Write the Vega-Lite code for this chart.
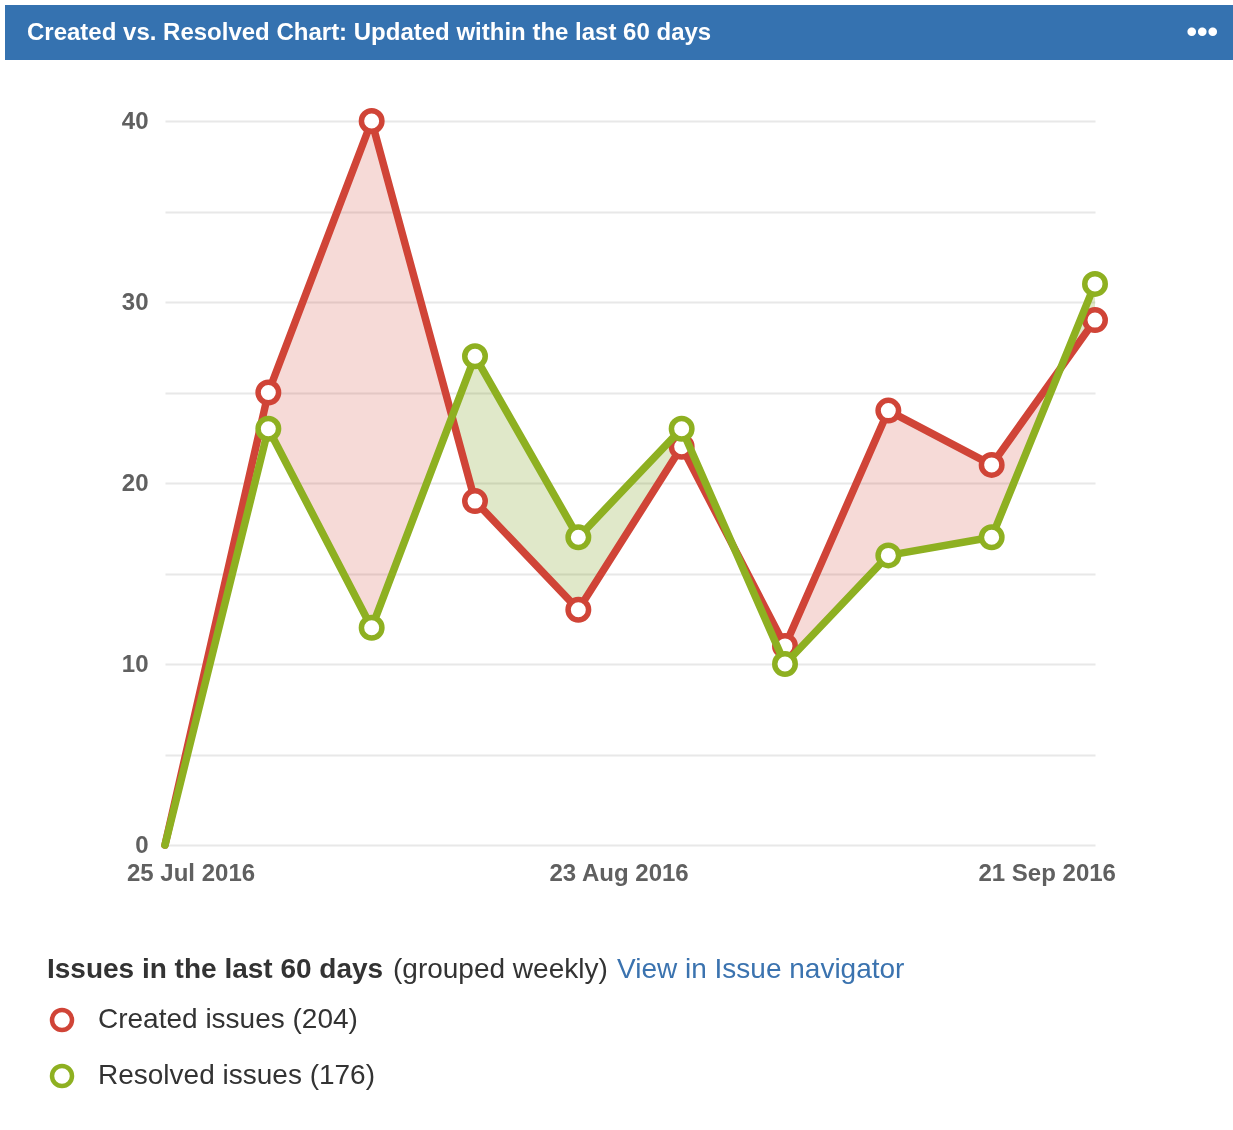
{
  "$schema": "https://vega.github.io/schema/vega-lite/v6.json",
  "background": "white",
  "padding": {"left": 5, "top": 5, "right": 0, "bottom": 0},
  "config": {
    "font": "Liberation Sans",
    "view": {"stroke": null}
  },
  "spacing": 39,
  "vconcat": [
    {
      "spacing": 0,
      "hconcat": [
        {
          "width": 1150,
          "height": 55,
          "view": {"fill": "#3572b0", "stroke": null},
          "title": {
            "text": "Created vs. Resolved Chart: Updated within the last 60 days",
            "anchor": "start", "frame": "group", "orient": "bottom", "offset": -27, "dx": 22,
            "baseline": "middle", "font": "Liberation Sans", "fontSize": 24, "fontWeight": "bold", "color": "white"
          },
          "data": {"values": []},
          "mark": {"type": "point"}
        },
        {
          "width": 78,
          "height": 55,
          "view": {"fill": "#3572b0", "stroke": null},
          "title": {
            "text": "•••", "anchor": "end", "frame": "group", "orient": "bottom", "offset": -27, "dx": -15,
            "baseline": "middle", "font": "Liberation Sans", "fontSize": 30, "fontWeight": "bold", "color": "white"
          },
          "data": {"values": []},
          "mark": {"type": "point"}
        }
      ]
    },
    {
      "spacing": 0,
      "hconcat": [
        {
          "width": 1,
          "height": 1,
          "data": {"values": []},
          "mark": {"type": "point"}
        },
        {
          "width": 930,
          "height": 724,
          "data": {
            "values": [
              {"date": "2016-07-23", "created": 0, "resolved": 0},
              {"date": "2016-07-30", "created": 25, "resolved": 23},
              {"date": "2016-08-06", "created": 40, "resolved": 12},
              {"date": "2016-08-13", "created": 19, "resolved": 27},
              {"date": "2016-08-20", "created": 13, "resolved": 17},
              {"date": "2016-08-27", "created": 22, "resolved": 23},
              {"date": "2016-09-03", "created": 11, "resolved": 10},
              {"date": "2016-09-10", "created": 24, "resolved": 16},
              {"date": "2016-09-17", "created": 21, "resolved": 17},
              {"date": "2016-09-24", "created": 29, "resolved": 31}
            ]
          },
          "encoding": {
            "x": {
              "field": "date", "type": "temporal", "title": null,
              "scale": {"type": "utc", "nice": false},
              "axis": {
                "values": [
                  {"year": 2016, "month": "jul", "date": 25, "utc": true},
                  {"year": 2016, "month": "aug", "date": 23, "utc": true},
                  {"year": 2016, "month": "sep", "date": 21, "utc": true}
                ],
                "labelExpr": "utcFormat(datum.value, '%d %b %Y')",
                "grid": false, "ticks": false, "domain": false,
                "labelFont": "Liberation Sans", "labelFontSize": 24, "labelFontWeight": "bold",
                "labelColor": "#606060", "labelPadding": 16, "labelOffset": -4, "minExtent": 72,
                "labelFlush": false, "labelOverlap": false
              }
            }
          },
          "layer": [
            {
              "mark": {"type": "area", "color": "#d04437", "opacity": 0.2},
              "encoding": {
                "y": {
                  "field": "created", "type": "quantitative", "title": null,
                  "scale": {"domain": [0, 40], "nice": false},
                  "axis": {
                    "values": [0, 5, 10, 15, 20, 25, 30, 35, 40],
                    "labelExpr": "datum.value % 10 === 0 ? datum.label : ''",
                    "grid": true, "gridColor": "#e8e8e8", "gridWidth": 2,
                    "ticks": false, "domain": false,
                    "labelFont": "Liberation Sans", "labelFontSize": 24, "labelFontWeight": "bold",
                    "labelColor": "#606060", "labelPadding": 17, "minExtent": 159
                  }
                },
                "y2": {"field": "resolved"}
              }
            },
            {
              "mark": {"type": "area", "color": "#8eb021", "blend": "hue"},
              "encoding": {"y": {"field": "resolved", "type": "quantitative", "title": null}}
            },
            {
              "mark": {"type": "line", "color": "#d04437", "strokeWidth": 7.5, "strokeJoin": "round", "strokeCap": "round"},
              "encoding": {"y": {"field": "created", "type": "quantitative", "title": null}}
            },
            {
              "transform": [{"filter": "datum.created > 0"}],
              "mark": {"type": "point", "filled": false, "fill": "white", "opacity": 1, "size": 420, "strokeWidth": 5.5},
              "encoding": {
                "y": {"field": "created", "type": "quantitative", "title": null},
                "color": {
                  "datum": "Created issues (204)",
                  "scale": {"domain": ["Created issues (204)", "Resolved issues (176)"], "range": ["#d04437", "#8eb021"]},
                  "legend": {
                    "title": null, "orient": "bottom", "direction": "vertical", "offset": 3,
                    "symbolType": "circle", "symbolSize": 400, "symbolStrokeWidth": 4.5, "symbolFillColor": "white",
                    "labelFont": "Liberation Sans", "labelFontSize": 28, "labelColor": "#333333", "labelLimit": 500,
                    "rowPadding": 18, "symbolOffset": 43, "labelOffset": 22
                  }
                }
              }
            },
            {
              "mark": {"type": "line", "color": "#8eb021", "strokeWidth": 7.5, "strokeJoin": "round", "strokeCap": "round"},
              "encoding": {"y": {"field": "resolved", "type": "quantitative", "title": null}}
            },
            {
              "transform": [{"filter": "datum.resolved > 0"}],
              "mark": {"type": "point", "filled": false, "fill": "white", "opacity": 1, "size": 420, "strokeWidth": 5.5},
              "encoding": {
                "y": {"field": "resolved", "type": "quantitative", "title": null},
                "color": {"datum": "Resolved issues (176)"}
              }
            }
          ]
        }
      ]
    },
    {
      "spacing": 9,
      "hconcat": [
        {
          "width": 1, "height": 1,
          "data": {"values": []},
          "mark": {"type": "point"},
          "title": {"text": "Issues in the last 60 days", "anchor": "start", "frame": "group", "orient": "top", "offset": 4, "dx": 42, "baseline": "middle", "font": "Liberation Sans", "fontSize": 28, "fontWeight": "bold", "color": "#333333"}
        },
        {
          "width": 1, "height": 1,
          "data": {"values": []},
          "mark": {"type": "point"},
          "title": {"text": "(grouped weekly)", "anchor": "start", "frame": "group", "orient": "top", "offset": 4, "baseline": "middle", "font": "Liberation Sans", "fontSize": 28, "fontWeight": "normal", "color": "#333333"}
        },
        {
          "width": 1, "height": 1,
          "data": {"values": []},
          "mark": {"type": "point"},
          "title": {"text": "View in Issue navigator", "anchor": "start", "frame": "group", "orient": "top", "offset": 4, "baseline": "middle", "font": "Liberation Sans", "fontSize": 28, "fontWeight": "normal", "color": "#3b73af"}
        }
      ]
    }
  ]
}
